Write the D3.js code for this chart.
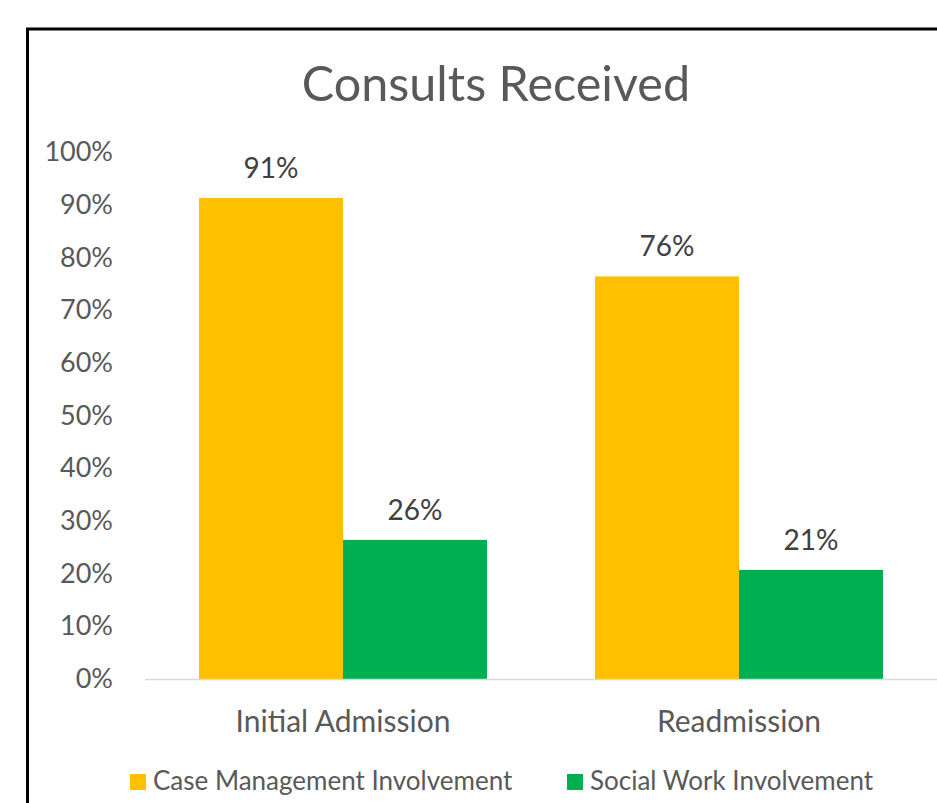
<!DOCTYPE html>
<html>
<head>
<meta charset="utf-8">
<script src="https://cdn.jsdelivr.net/npm/d3@7"></script>
<style>
  html, body { margin: 0; padding: 0; background: #fff; }
  svg { display: block; }
  text { font-family: Lato, "Open Sans", sans-serif; }
</style>
</head>
<body>
<svg id="chart" width="937" height="803"></svg>
<script>
const title = "Consults Received";
const categories = ["Initial Admission", "Readmission"];
const seriesNames = ["Case Management Involvement", "Social Work Involvement"];
const seriesColors = ["#FFC000", "#00B050"];
const caseManagement = [0.913, 0.764];
const socialWork = [0.264, 0.207];
const yTicks = [0, 0.1, 0.2, 0.3, 0.4, 0.5, 0.6, 0.7, 0.8, 0.9, 1.0];

const seriesValues = [caseManagement, socialWork];
const data = categories.map((c, i) => ({
  category: c,
  values: seriesNames.map((s, j) => ({ series: s, idx: j, value: seriesValues[j][i] }))
}));

const svg = d3.select("#chart");
const plot = { left: 145, right: 937, top: 152, bottom: 679 };

// chart border
svg.append("rect")
  .attr("x", 27.5).attr("y", 29)
  .attr("width", 1000).attr("height", 900)
  .attr("fill", "#fff")
  .attr("stroke", "#000").attr("stroke-width", 3);

const x0 = d3.scaleBand().domain(categories)
  .range([plot.left, plot.right])
  .paddingInner(0.2727).paddingOuter(0.13636);
const x1 = d3.scaleBand().domain(seriesNames).range([0, x0.bandwidth()]).padding(0);
const y = d3.scaleLinear().domain([0, 1]).range([plot.bottom, plot.top]);

// title
svg.append("text")
  .attr("x", 496).attr("y", 101)
  .attr("text-anchor", "middle")
  .attr("font-size", 48.5)
  .attr("fill", "#595959")
  .text(title);

// y axis
const yAxis = d3.axisLeft(y).tickValues(yTicks).tickFormat(d3.format(".0%")).tickSize(0).tickPadding(32);
const yg = svg.append("g").attr("transform", `translate(${plot.left},0)`).call(yAxis);
yg.select(".domain").remove();
yg.selectAll("text").attr("font-size", 27).attr("fill", "#595959")
  .attr("font-family", "Lato, 'Open Sans', sans-serif");

// bars
const groups = svg.append("g").selectAll("g").data(data).join("g")
  .attr("transform", d => `translate(${x0(d.category)},0)`);
groups.selectAll("rect").data(d => d.values).join("rect")
  .attr("x", d => x1(d.series))
  .attr("width", x1.bandwidth())
  .attr("y", d => y(d.value))
  .attr("height", d => y(0) - y(d.value))
  .attr("fill", d => seriesColors[d.idx]);

// data labels
groups.selectAll("text").data(d => d.values).join("text")
  .attr("x", d => x1(d.series) + x1.bandwidth() / 2)
  .attr("y", d => y(d.value) - 20)
  .attr("text-anchor", "middle")
  .attr("font-size", 28)
  .attr("fill", "#404040")
  .text(d => d3.format(".0%")(d.value));

// baseline
svg.append("line")
  .attr("x1", plot.left).attr("x2", plot.right)
  .attr("y1", y(0) + 0.5).attr("y2", y(0) + 0.5)
  .attr("stroke", "#D9D9D9").attr("stroke-width", 1.5);

// category labels
const xAxis = d3.axisBottom(x0).tickSize(0).tickPadding(0);
const xg = svg.append("g").attr("transform", `translate(0,${plot.bottom})`).call(xAxis);
xg.select(".domain").remove();
xg.selectAll("text").attr("font-size", 30).attr("fill", "#595959")
  .attr("font-family", "Lato, 'Open Sans', sans-serif")
  .attr("dy", null).attr("y", 53);

// legend
const legendX = [130, 567];
const lg = svg.append("g").selectAll("g").data(seriesNames).join("g")
  .attr("transform", (d, i) => `translate(${legendX[i]},774)`);
lg.append("rect").attr("width", 16).attr("height", 16).attr("fill", (d, i) => seriesColors[i]);
lg.append("text").attr("x", 23).attr("y", 16).attr("font-size", 26).attr("fill", "#595959").text(d => d);
</script>
</body>
</html>
